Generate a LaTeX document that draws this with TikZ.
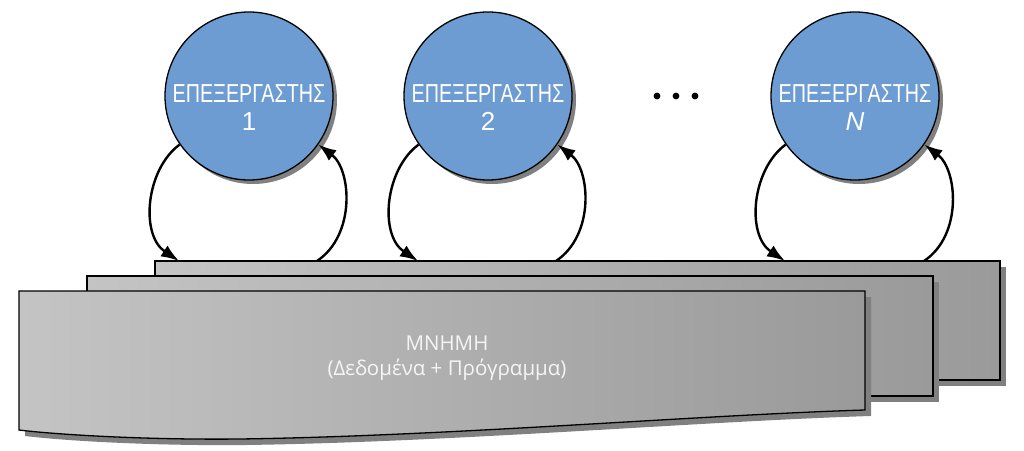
\documentclass[tikz,border=0pt]{standalone}
\usepackage{fontspec}
\setmainfont{Liberation Sans}
\newfontfamily\memfont{Open Sans}
\usetikzlibrary{arrows.meta,shadows}
\definecolor{procblue}{RGB}{108,156,210}
\definecolor{shadowgray}{RGB}{128,128,128}
\definecolor{platelight}{RGB}{196,196,196}
\definecolor{platedark}{RGB}{154,154,154}
\definecolor{memtextcol}{RGB}{245,245,245}
\tikzset{
  proc/.style={circle, draw=black, line width=1.3pt, fill=procblue, minimum size=168pt, inner sep=0pt,
    drop shadow={shadow xshift=4pt, shadow yshift=-4pt, fill=shadowgray, opacity=1}},
  proctext/.style={text=white, font=\fontsize{26}{28}\selectfont, align=center, inner sep=0pt},
  plate/.style={draw=black, line width=1.3pt, left color=platelight, right color=platedark},
  plateshadow/.style={fill=shadowgray},
  arr/.style={line width=2.4pt, -{Latex[length=18pt,width=13pt]}},
  memtext/.style={text=memtextcol, font=\memfont\fontsize{20.5}{25}\selectfont, align=center},
  dotmark/.style={fill=black}
}
\begin{document}
\begin{tikzpicture}[x=1pt,y=1pt]
\useasboundingbox (0,0) rectangle (1024,450);
% memory plates
\fill[plateshadow] (161,183) rectangle (1006,64);
\draw[plate] (155,189) rectangle (1000,70);
\fill[plateshadow] (93,168) rectangle (939,48);
\draw[plate] (87,174) rectangle (933,54);
\fill[plateshadow, shift={(6,-6)}] (19,159) -- (865,159) -- (865,40) .. controls (700,35) and (450,14) .. (240,11) .. controls (150,10) and (60,15) .. (19,20) -- cycle;
\draw[plate] (19,159) -- (865,159) -- (865,40) .. controls (700,35) and (450,14) .. (240,11) .. controls (150,10) and (60,15) .. (19,20) -- cycle;
\node[memtext] (mem) at (447,92) {ΜΝΗΜΗ\\(Δεδομένα + Πρόγραμμα)};
% processors
\node[proc] (p1) at (249,354) {};
\node[proc] (p2) at (488,354) {};
\node[proc] (pN) at (855,354) {};
\node[proctext] (t1) at ([yshift=-12pt]p1.center) {\scalebox{0.76}[1]{ΕΠΕΞΕΡΓΑΣΤΗΣ}\\1};
\node[proctext] (t2) at ([yshift=-12pt]p2.center) {\scalebox{0.76}[1]{ΕΠΕΞΕΡΓΑΣΤΗΣ}\\2};
\node[proctext] (tN) at ([yshift=-12pt]pN.center) {\scalebox{0.76}[1]{ΕΠΕΞΕΡΓΑΣΤΗΣ}\\\textit{N}};
% dots
\fill[dotmark] (657,354) circle (3.4);
\fill[dotmark] (676,354) circle (3.4);
\fill[dotmark] (695,354) circle (3.4);
% connection points on memory
\coordinate (m1a) at (179,189);
\coordinate (m1b) at (317,189);
\coordinate (m2a) at (418,189);
\coordinate (m2b) at (556,189);
\coordinate (mNa) at (785,189);
\coordinate (mNb) at (924,189);
% arrows
\draw[arr] (p1.215) .. controls +(-34,-25) and +(-39,26) .. (m1a);
\draw[arr] (m1b) .. controls +(39,26) and +(33,-25) .. (p1.325);
\draw[arr] (p2.215) .. controls +(-34,-25) and +(-39,26) .. (m2a);
\draw[arr] (m2b) .. controls +(39,26) and +(33,-25) .. (p2.325);
\draw[arr] (pN.215) .. controls +(-34,-25) and +(-39,26) .. (mNa);
\draw[arr] (mNb) .. controls +(39,26) and +(33,-25) .. (pN.325);
\end{tikzpicture}
\end{document}
